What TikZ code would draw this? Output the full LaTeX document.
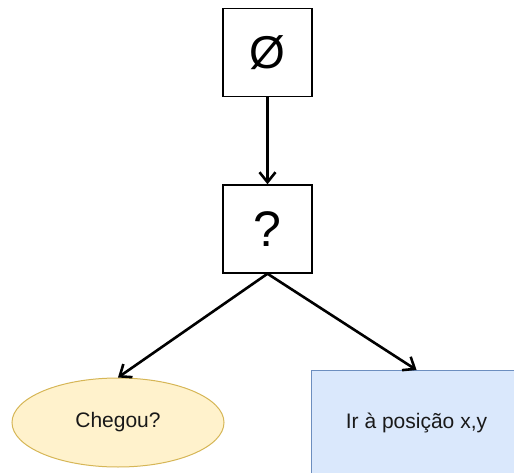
\documentclass[tikz,border=0pt]{standalone}
\usepackage{fontspec}
\setmainfont{Liberation Sans}
\usetikzlibrary{shapes.geometric,arrows.meta}
\begin{document}
\begin{tikzpicture}[x=1pt,y=-1pt,
  treebox/.style={draw=black, line width=1.4pt, fill=white, minimum width=89pt, minimum height=88pt, inner sep=0pt},
  condition/.style={ellipse, draw={rgb,255:red,214;green,182;blue,86}, fill={rgb,255:red,255;green,242;blue,204}, line width=1pt, minimum width=212pt, minimum height=89pt, inner sep=0pt, font=\fontsize{21}{25}\selectfont, text={rgb,255:red,25;green,25;blue,25}},
  action/.style={rectangle, draw={rgb,255:red,108;green,142;blue,191}, fill={rgb,255:red,218;green,232;blue,252}, line width=1pt, minimum width=220pt, minimum height=110pt, inner sep=0pt},
  link/.style={line width=2.6pt, -{Straight Barb[length=10pt,width=16pt,line width=2.6pt]}}]
\useasboundingbox (0,0) rectangle (514,473);
\node[treebox, font=\fontsize{46}{52}\selectfont] (root) at (267.5,52.5) {Ø};
\node[treebox, font=\fontsize{50}{56}\selectfont] (sel) at (267.5,229) {?};
\node[condition] (cond) at (118,422.5) {Chegou?};
\node[action, anchor=north west] (act) at (311,370) {};
\node[font=\fontsize{21}{25}\selectfont, text={rgb,255:red,25;green,25;blue,25}] (actlabel) at (416.5,422.5) {Ir à posição x,y};
\draw[link] (root) -- (sel);
\draw[link] (sel.south) -- (cond.north);
\draw[link] (sel.south) -- (act.north -| actlabel);
\end{tikzpicture}
\end{document}
